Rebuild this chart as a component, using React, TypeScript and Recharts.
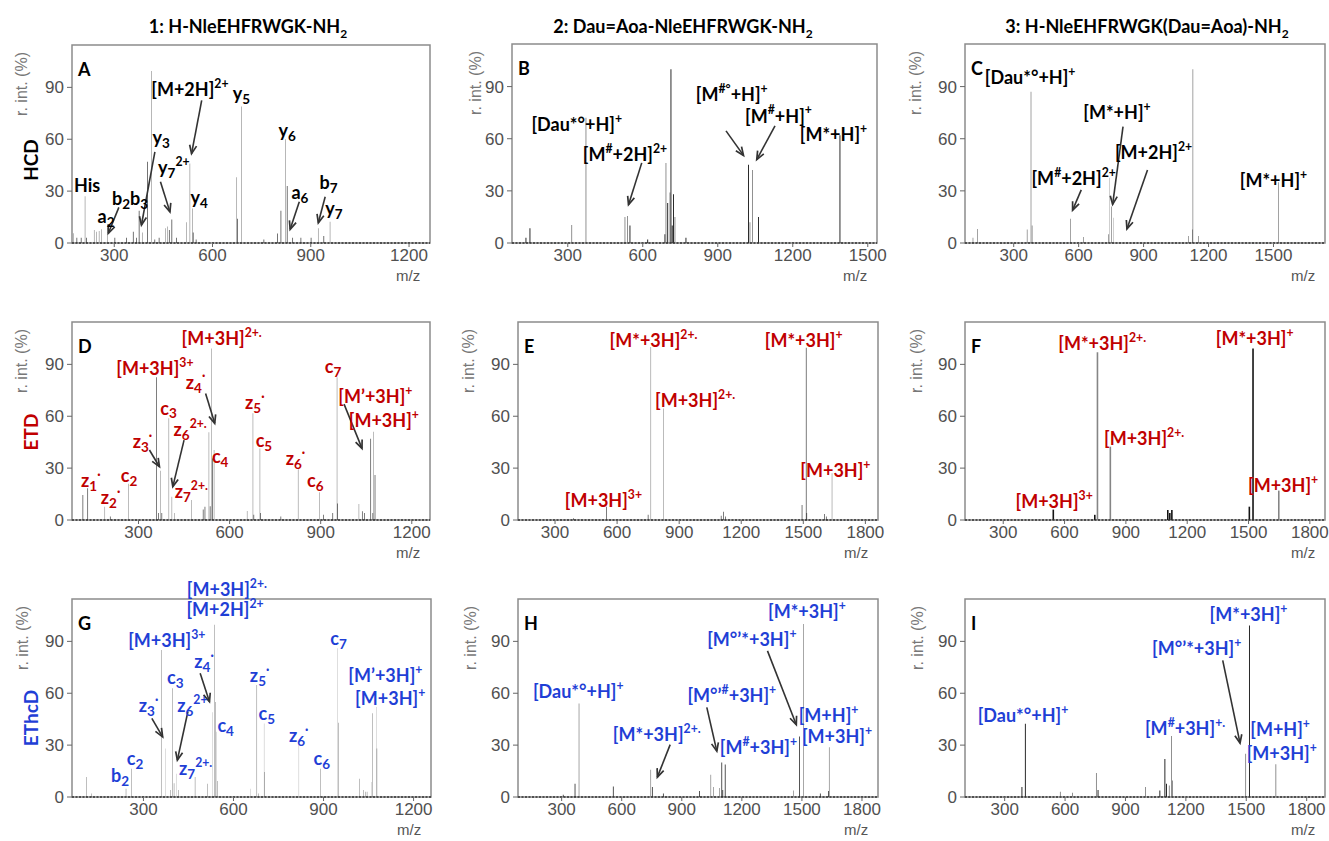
import React from "react";
import { ComposedChart, Bar, Cell, XAxis, YAxis, ReferenceLine, ReferenceDot, ReferenceArea } from "recharts";

// peaks: [m/z, relative intensity %, 1 = drawn black / 0 = drawn gray]
type Peak = [number, number, number];
// notes: [m/z, intensity, label]  ^{..} = superscript, _{..} = subscript
type Note = [number, number, string];
// arrows: [m/z tail, int tail, m/z head, int head]
type Arrow = [number, number, number, number];

const columnTitles = ["1: H-NleEHFRWGK-NH", "2: Dau=Aoa-NleEHFRWGK-NH", "3: H-NleEHFRWGK(Dau=Aoa)-NH"];
const rowTitles = ["HCD", "ETD", "EThcD"];
const ticksShort = [300, 600, 900, 1200];
const ticksMid = [300, 600, 900, 1200, 1500];
const ticksLong = [300, 600, 900, 1200, 1500, 1800];
const intTicks = [0, 30, 60, 90];

const hcd1Peaks: Peak[] = [
  [175, 5.6, 0], [186, 3, 1], [199, 3, 1], [211, 27, 0], [216, 3, 1], [239, 7.5, 0], [246, 6.5, 0],
  [254, 7, 0], [261, 8, 0], [279, 9, 0], [302, 3, 1], [338, 3, 1], [358, 6.5, 1], [368, 3, 1],
  [376, 18.7, 1], [386, 6, 0], [402, 47, 1], [414, 99.4, 0], [424, 2, 1], [437, 3, 1], [457, 8.5, 0],
  [463, 9.5, 0], [468, 7.5, 1], [476, 13.6, 1], [490, 3, 1], [521, 12, 0], [531, 46, 0], [539, 20, 0],
  [541, 6, 1], [550, 2, 1], [674, 38, 0], [676, 14, 1], [688, 79, 0], [757, 2, 1], [798, 5.5, 1],
  [809, 18.7, 1], [823, 60, 0], [828, 33, 1], [845, 3, 1], [870, 3, 1], [901, 3, 1], [923, 8.5, 0],
  [940, 4, 1], [959, 12.3, 0],
];
const hcd1Notes: Note[] = [
  [217, 29.6, "His"], [275, 11.3, "a_{2}"], [348, 21.9, "b_{2}b_{3}"], [443, 57.5, "y_{3}"],
  [482, 39.8, "y_{7}^{2+}"], [559, 22.5, "y_{4}"], [531, 84.8, "[M+2H]^{2+}"], [688, 82.5, "y_{5}"],
  [828, 61.3, "y_{6}"], [867, 25.2, "a_{6}"], [954, 31, "b_{7}"], [971, 16.2, "y_{7}"],
];
const hcd1Arrows: Arrow[] = [
  [314, 20.6, 282, 5.6], [424, 52.7, 383, 10.4], [441, 35.4, 470, 18], [567, 82.5, 536, 51.7],
  [865, 23.8, 837, 7.9], [944, 26.7, 923, 11.7],
];

const hcd2Peaks: Peak[] = [
  [133, 3, 1], [149, 8.5, 1], [316, 10.4, 0], [373, 72, 0], [529, 15, 0], [539, 15.5, 0], [549, 10, 1],
  [620, 2, 1], [689, 5, 1], [693, 46, 0], [700, 23, 1], [709, 29, 0], [713, 100, 1], [718, 10, 1],
  [723, 28, 1], [729, 15, 0], [773, 3, 1], [1023, 45, 1], [1029, 12, 0], [1039, 42, 0], [1063, 15, 1],
  [1389, 62, 1],
];
const hcd2Notes: Note[] = [
  [336, 64.5, "[Dau*°+H]^{+}"], [529, 47, "[M^{#}+2H]^{2+}"], [956, 81.9, "[M^{#°}+H]^{+}"],
  [1143, 69.3, "[M^{#}+H]^{+}"], [1363, 58.7, "[M*+H]^{+}"],
];
const hcd2Arrows: Arrow[] = [[596, 46.1, 543, 22], [933, 64.5, 1003, 50.4], [1129, 67.4, 1056, 48]];

const hcd3Peaks: Peak[] = [
  [112, 3, 1], [132, 8, 1], [362, 7.7, 1], [380, 87, 1], [385, 10, 1], [562, 14, 1], [623, 3.5, 1],
  [738, 5, 1], [743, 37.6, 0], [751, 21, 1], [762, 14.5, 0], [1108, 4, 1], [1126, 7.7, 1],
  [1128, 100, 1], [1154, 4, 1], [1523, 35, 1],
];
const hcd3Notes: Note[] = [
  [376, 91.5, "[Dau*°+H]^{+}"], [777, 71.3, "[M*+H]^{+}"], [946, 48.2, "[M+2H]^{2+}"],
  [577, 33.1, "[M^{#}+2H]^{2+}"], [1500, 32.4, "[M*+H]^{+}"],
];
const hcd3Arrows: Arrow[] = [[612, 30.6, 572, 18.9], [805, 67, 757, 22.2], [918, 42, 823, 8.1]];

const etd1Peaks: Peak[] = [
  [117, 14.5, 1], [133, 18.3, 1], [189, 7.7, 0], [207, 2, 1], [267, 21, 0], [359, 82.5, 1], [366, 4, 1],
  [373, 28.5, 0], [377, 4, 1], [400, 58.8, 0], [410, 13.5, 0], [419, 4, 0], [474, 11.6, 0], [513, 6, 1],
  [519, 7.7, 1], [532, 50.7, 0], [536, 8, 1], [540, 99.2, 0], [544, 35.6, 1], [549, 40.5, 0],
  [658, 5.2, 0], [677, 61.7, 0], [680, 3, 1], [700, 41.4, 0], [702, 4, 1], [769, 2, 1], [826, 29.3, 0],
  [896, 16, 0], [909, 3, 1], [940, 4, 1], [954, 82.5, 0], [956, 9.6, 1], [1026, 9.2, 0], [1037, 5, 1],
  [1045, 4, 1], [1065, 47, 1], [1072, 4, 1], [1074, 51, 0], [1079, 26, 1],
];
const etd1Notes: Note[] = [
  [354, 83.8, "[M+3H]^{3+}"], [574, 101, "[M+3H]^{2+.}"], [488, 76, "z_{4}^{·}"], [399, 61, "c_{3}"],
  [470, 48.5, "z_{6}^{2+.}"], [313, 41.8, "z_{3}^{·}"], [569, 33, "c_{4}"], [474, 12.5, "z_{7}^{2+.}"],
  [269, 22, "c_{2}"], [143, 19.3, "z_{1}^{·}"], [208, 9.2, "z_{2}^{·}"], [683, 64, "z_{5}^{·}"],
  [713, 42.4, "c_{5}"], [817, 31.8, "z_{6}^{·}"], [882, 19.3, "c_{6}"], [941, 84.8, "c_{7}"],
  [1080, 67.4, "[M’+3H]^{+}"], [1108, 54, "[M+3H]^{+}"],
];
const etd1Arrows: Arrow[] = [
  [336, 40.5, 369, 30.8], [450, 46.2, 413, 19.3], [521, 73.2, 551, 55.9], [977, 67, 1036, 41.4],
];

const etd2Peaks: Peak[] = [
  [389, 1, 1], [550, 7.7, 1], [750, 3, 1], [763, 100, 0], [824, 64.5, 0], [1103, 2.5, 1], [1115, 4.8, 1],
  [1123, 2, 1], [1494, 8.7, 1], [1514, 99.6, 1], [1517, 4, 1], [1603, 3.5, 1], [1611, 2, 1], [1639, 27, 0],
];
const etd2Notes: Note[] = [
  [776, 100, "[M*+3H]^{2+.}"], [977, 65.5, "[M+3H]^{2+.}"], [1502, 100, "[M*+3H]^{+}"],
  [1655, 25, "[M+3H]^{+}"], [534, 7.7, "[M+3H]^{3+}"],
];

const etd3Peaks: Peak[] = [
  [546, 6, 1], [749, 3, 1], [762, 97, 0], [825, 42.4, 0], [1106, 5.8, 1], [1116, 4, 1], [1126, 5.8, 1],
  [1505, 7.7, 1], [1523, 99.2, 1], [1649, 17, 0],
];
const etd3Notes: Note[] = [
  [784, 98.3, "[M*+3H]^{2+.}"], [989, 43.4, "[M+3H]^{2+.}"], [1530, 101, "[M*+3H]^{+}"],
  [1669, 16.4, "[M+3H]^{+}"], [549, 6.7, "[M+3H]^{3+}"],
];

const ethcd1Peaks: Peak[] = [
  [111, 11.6, 1], [128, 2, 1], [242, 4.8, 1], [261, 16.4, 1], [359, 85, 1], [374, 28, 0], [391, 4, 1],
  [397, 62.9, 1], [402, 8, 1], [409, 13.5, 0], [417, 4, 1], [472, 11.6, 1], [514, 7.7, 1], [529, 49, 0],
  [536, 99.6, 1], [539, 55, 1], [544, 37.7, 0], [546, 9.3, 1], [656, 4.8, 0], [678, 64.8, 1], [683, 2, 1],
  [702, 42.5, 0], [703, 14.5, 1], [818, 31, 0], [891, 16.4, 1], [947, 86, 0], [949, 43, 1],
  [1019, 10.6, 1], [1034, 4, 1], [1039, 3, 1], [1045, 3, 1], [1061, 8.7, 0], [1063, 48.4, 1],
  [1076, 52, 0], [1078, 28, 1],
];
const ethcd1Notes: Note[] = [
  [578, 116, "[M+3H]^{2+.}"], [572, 104.4, "[M+2H]^{2+}"], [378, 86.5, "[M+3H]^{3+}"], [406, 65.4, "c_{3}"],
  [502, 74.5, "z_{4}^{·}"], [463, 49.3, "z_{6}^{2+}"], [317, 49.3, "z_{3}^{·}"], [574, 37.7, "c_{4}"],
  [474, 12.6, "z_{7}^{2+.}"], [272, 18.4, "c_{2}"], [222, 8.7, "b_{2}"], [687, 66.7, "z_{5}^{·}"],
  [711, 44.5, "c_{5}"], [817, 31.9, "z_{6}^{·}"], [894, 18.4, "c_{6}"], [950, 88, "c_{7}"],
  [1106, 66.5, "[M’+3H]^{+}"], [1122, 53, "[M+3H]^{+}"],
];
const ethcd1Arrows: Arrow[] = [[328, 45.5, 364, 34.8], [448, 49.3, 413, 21.3], [489, 71.6, 520, 55.1]];

const ethcd2Peaks: Peak[] = [
  [308, 1.3, 1], [367, 7.7, 1], [387, 54, 0], [558, 6, 1], [745, 15.7, 0], [753, 5.8, 1], [808, 2, 1],
  [988, 3.5, 1], [1045, 12.9, 0], [1058, 5.8, 0], [1088, 5.2, 0], [1100, 20, 1], [1105, 4, 1],
  [1117, 18.8, 1], [1458, 3.8, 0], [1488, 35, 1], [1508, 100, 0], [1592, 2, 1], [1633, 3.5, 1],
  [1637, 28.8, 0],
];
const ethcd2Notes: Note[] = [
  [1525, 103.6, "[M*+3H]^{+}"], [1250, 87.3, "[M°’*+3H]^{+}"], [383, 57.2, "[Dau*°+H]^{+}"],
  [1150, 54.7, "[M°’^{#}+3H]^{+}"], [775, 32.6, "[M*+3H]^{2+.}"], [1283, 25, "[M^{#}+3H]^{+}"],
  [1633, 43.5, "[M+H]^{+}"], [1675, 31.2, "[M+3H]^{+}"],
];
const ethcd2Arrows: Arrow[] = [[1328, 84.5, 1472, 41.8], [1025, 51.8, 1075, 26.5], [842, 30.3, 778, 11.5]];

const ethcd3Peaks: Peak[] = [
  [386, 5.8, 1], [403, 42.4, 1], [577, 3, 0], [637, 2.5, 0], [756, 13.9, 0], [764, 4, 1], [1000, 5.8, 0],
  [1071, 3.8, 1], [1096, 22, 1], [1104, 7.7, 1], [1118, 6.7, 0], [1129, 35.3, 0], [1134, 9.6, 0],
  [1497, 25, 0], [1516, 99.2, 1], [1647, 18.9, 0],
];
const ethcd3Notes: Note[] = [
  [1511, 102, "[M*+3H]^{+}"], [1254, 81.9, "[M°’*+3H]^{+}"], [391, 43.4, "[Dau*°+H]^{+}"],
  [1196, 35.6, "[M^{#}+3H]^{+.}"], [1668, 35.5, "[M+H]^{+}"], [1676, 21.2, "[M+3H]^{+}"],
];
const ethcd3Arrows: Arrow[] = [[1383, 79, 1469, 31.2]];

const RED = "#c00000";
const BLUE = "#1f3fd6";
const LABEL_FONT = "Lato, 'Open Sans', sans-serif";
const TICK_FONT = "'Liberation Sans', Arial, sans-serif";
const Y_TOP = 114.5;

type Panel = {
  letter: string; left: number; top: number; w: number; h: number; dom: [number, number];
  ticks: number[]; peaks: Peak[]; notes: Note[]; arrows: Arrow[]; color: string; rx: number;
};

const panels: Panel[] = [
  { letter: "A", left: 72, top: 45, w: 358, h: 198, dom: [171, 1264], ticks: ticksShort, peaks: hcd1Peaks, notes: hcd1Notes, arrows: hcd1Arrows, color: "#000", rx: 22 },
  { letter: "B", left: 512, top: 44, w: 365, h: 199, dom: [77, 1537], ticks: ticksMid, peaks: hcd2Peaks, notes: hcd2Notes, arrows: hcd2Arrows, color: "#000", rx: 476 },
  { letter: "C", left: 965, top: 44, w: 360, h: 199, dom: [75, 1738], ticks: ticksMid, peaks: hcd3Peaks, notes: hcd3Notes, arrows: hcd3Arrows, color: "#000", rx: 916 },
  { letter: "D", left: 72, top: 322, w: 358, h: 198, dom: [81, 1260], ticks: ticksShort, peaks: etd1Peaks, notes: etd1Notes, arrows: etd1Arrows, color: RED, rx: 22 },
  { letter: "E", left: 518, top: 322, w: 360, h: 198, dom: [121, 1861], ticks: ticksLong, peaks: etd2Peaks, notes: etd2Notes, arrows: [], color: RED, rx: 469 },
  { letter: "F", left: 965, top: 322, w: 360, h: 198, dom: [113, 1874], ticks: ticksLong, peaks: etd3Peaks, notes: etd3Notes, arrows: [], color: RED, rx: 917 },
  { letter: "G", left: 72, top: 599, w: 359, h: 198, dom: [62, 1258], ticks: ticksShort, peaks: ethcd1Peaks, notes: ethcd1Notes, arrows: ethcd1Arrows, color: BLUE, rx: 23 },
  { letter: "H", left: 518, top: 599, w: 360, h: 198, dom: [82, 1880], ticks: ticksLong, peaks: ethcd2Peaks, notes: ethcd2Notes, arrows: ethcd2Arrows, color: BLUE, rx: 471 },
  { letter: "I", left: 965, top: 599, w: 360, h: 198, dom: [103, 1891], ticks: ticksLong, peaks: ethcd3Peaks, notes: ethcd3Notes, arrows: ethcd3Arrows, color: BLUE, rx: 918 },
];

function splitLabel(s: string) {
  const out: { t: string; k: "n" | "sup" | "sub" }[] = [];
  const re = /\^\{([^}]*)\}|_\{([^}]*)\}|([^^_]+)/g;
  let m: RegExpExecArray | null;
  while ((m = re.exec(s))) {
    if (m[1] !== undefined) out.push({ t: m[1], k: "sup" });
    else if (m[2] !== undefined) out.push({ t: m[2], k: "sub" });
    else out.push({ t: m[3], k: "n" });
  }
  return out;
}

function RichLabel({ x, y, text, color, size = 18 }: { x: number; y: number; text: string; color: string; size?: number }) {
  let cur = 0;
  return (
    <text x={x} y={y} textAnchor="middle" fill={color} fontSize={size} fontWeight={700} fontFamily={LABEL_FONT}>
      {splitLabel(text).map((p, i) => {
        const target = p.k === "sup" ? -0.45 * size : p.k === "sub" ? 0.22 * size : 0;
        const dy = target - cur;
        cur = target;
        return (
          <tspan key={i} dy={dy} fontSize={p.k === "n" ? size : p.k === "sub" ? size * 0.75 : size * 0.68}>
            {p.t}
          </tspan>
        );
      })}
    </text>
  );
}

const arrowShape = (p: any) => {
  const { x1, y1, x2, y2 } = p;
  const a = Math.atan2(y2 - y1, x2 - x1);
  const L = 9;
  const s = 0.4;
  const h1 = `${x2 - L * Math.cos(a - s)},${y2 - L * Math.sin(a - s)}`;
  const h2 = `${x2 - L * Math.cos(a + s)},${y2 - L * Math.sin(a + s)}`;
  return (
    <g>
      <line x1={x1} y1={y1} x2={x2} y2={y2} stroke="#333" strokeWidth={1.6} />
      <path d={`M${h1}L${x2},${y2}L${h2}`} fill="none" stroke="#333" strokeWidth={1.7} />
    </g>
  );
};

function Spectrum({ p }: { p: Panel }) {
  const data = p.peaks.map(([mz, v, k]) => ({ mz, v, k }));
  const tickStyle = { fill: "#505050", fontSize: 17, fontFamily: TICK_FONT };
  return (
    <>
      <div style={{ position: "absolute", left: p.left - 60, top: p.top - 40 }}>
        <ComposedChart width={p.w + 70} height={p.h + 72} data={data} margin={{ top: 40, right: 10, bottom: 2, left: 0 }}>
          <XAxis
            type="number"
            dataKey="mz"
            domain={p.dom}
            allowDataOverflow
            ticks={p.ticks}
            interval={0}
            height={30}
            axisLine={false}
            tickLine={{ stroke: "#666" }}
            tickSize={4}
            tickMargin={2}
            tick={tickStyle}
          />
          <YAxis
            type="number"
            domain={[0, Y_TOP]}
            allowDataOverflow
            ticks={intTicks}
            interval={0}
            width={60}
            axisLine={false}
            tickLine={{ stroke: "#666" }}
            tickSize={5}
            tickMargin={3}
            tick={tickStyle}
          />
          <ReferenceArea x1={p.dom[0]} x2={p.dom[1]} y1={0} y2={Y_TOP} fill="none" stroke="#8c8c8c" strokeWidth={1.5} ifOverflow="visible" />
          <Bar dataKey="v" barSize={1.6} isAnimationActive={false}>
            {data.map((d, i) => (
              <Cell key={i} fill={d.k ? "#141414" : "#858585"} />
            ))}
          </Bar>
          <ReferenceLine y={0} stroke="#333" strokeWidth={1.5} strokeDasharray="2 1.5" />
          {p.arrows.map((a, i) => (
            <ReferenceLine
              key={"a" + i}
              segment={[{ x: a[0], y: a[1] }, { x: a[2], y: a[3] }]}
              ifOverflow="visible"
              shape={arrowShape}
            />
          ))}
          {p.notes.map((n, i) => (
            <ReferenceDot
              key={"n" + i}
              x={n[0]}
              y={n[1]}
              r={0}
              ifOverflow="visible"
              shape={(sp: any) => <RichLabel x={sp.cx} y={sp.cy} text={n[2]} color={p.color} />}
            />
          ))}
        </ComposedChart>
      </div>
      <div style={{ position: "absolute", left: p.left + 6, top: p.top + 13, font: `700 18px ${LABEL_FONT}`, color: "#000" }}>{p.letter}</div>
      <div
        style={{
          position: "absolute", left: p.rx, top: p.top + 39, transform: "translate(-50%, -50%) rotate(-90deg)",
          font: `16px ${TICK_FONT}`, color: "#777", whiteSpace: "nowrap",
        }}
      >
        r. int. (%)
      </div>
      <div style={{ position: "absolute", left: p.left + p.w - 34, top: p.top + p.h + 24, font: `15px ${TICK_FONT}`, color: "#555" }}>m/z</div>
    </>
  );
}

export default function App() {
  const titleX = [248, 683, 1147];
  const rowY = [160, 432, 718];
  const rowColors = ["#000", RED, BLUE];
  return (
    <div style={{ position: "absolute", left: 0, top: 0, width: 1329, height: 841, background: "#fff", overflow: "hidden" }}>
      {columnTitles.map((t, i) => (
        <div
          key={t}
          style={{ position: "absolute", left: titleX[i], top: 15, transform: "translateX(-50%)", font: `700 18px ${LABEL_FONT}`, whiteSpace: "nowrap" }}
        >
          {t}
          <sub style={{ fontSize: 12 }}>2</sub>
        </div>
      ))}
      {rowTitles.map((t, i) => (
        <div
          key={t}
          style={{
            position: "absolute", left: 30, top: rowY[i], transform: "translate(-50%, -50%) rotate(-90deg)",
            font: `700 19px ${LABEL_FONT}`, color: rowColors[i], whiteSpace: "nowrap",
          }}
        >
          {t}
        </div>
      ))}
      {panels.map((p) => (
        <Spectrum key={p.letter} p={p} />
      ))}
    </div>
  );
}
